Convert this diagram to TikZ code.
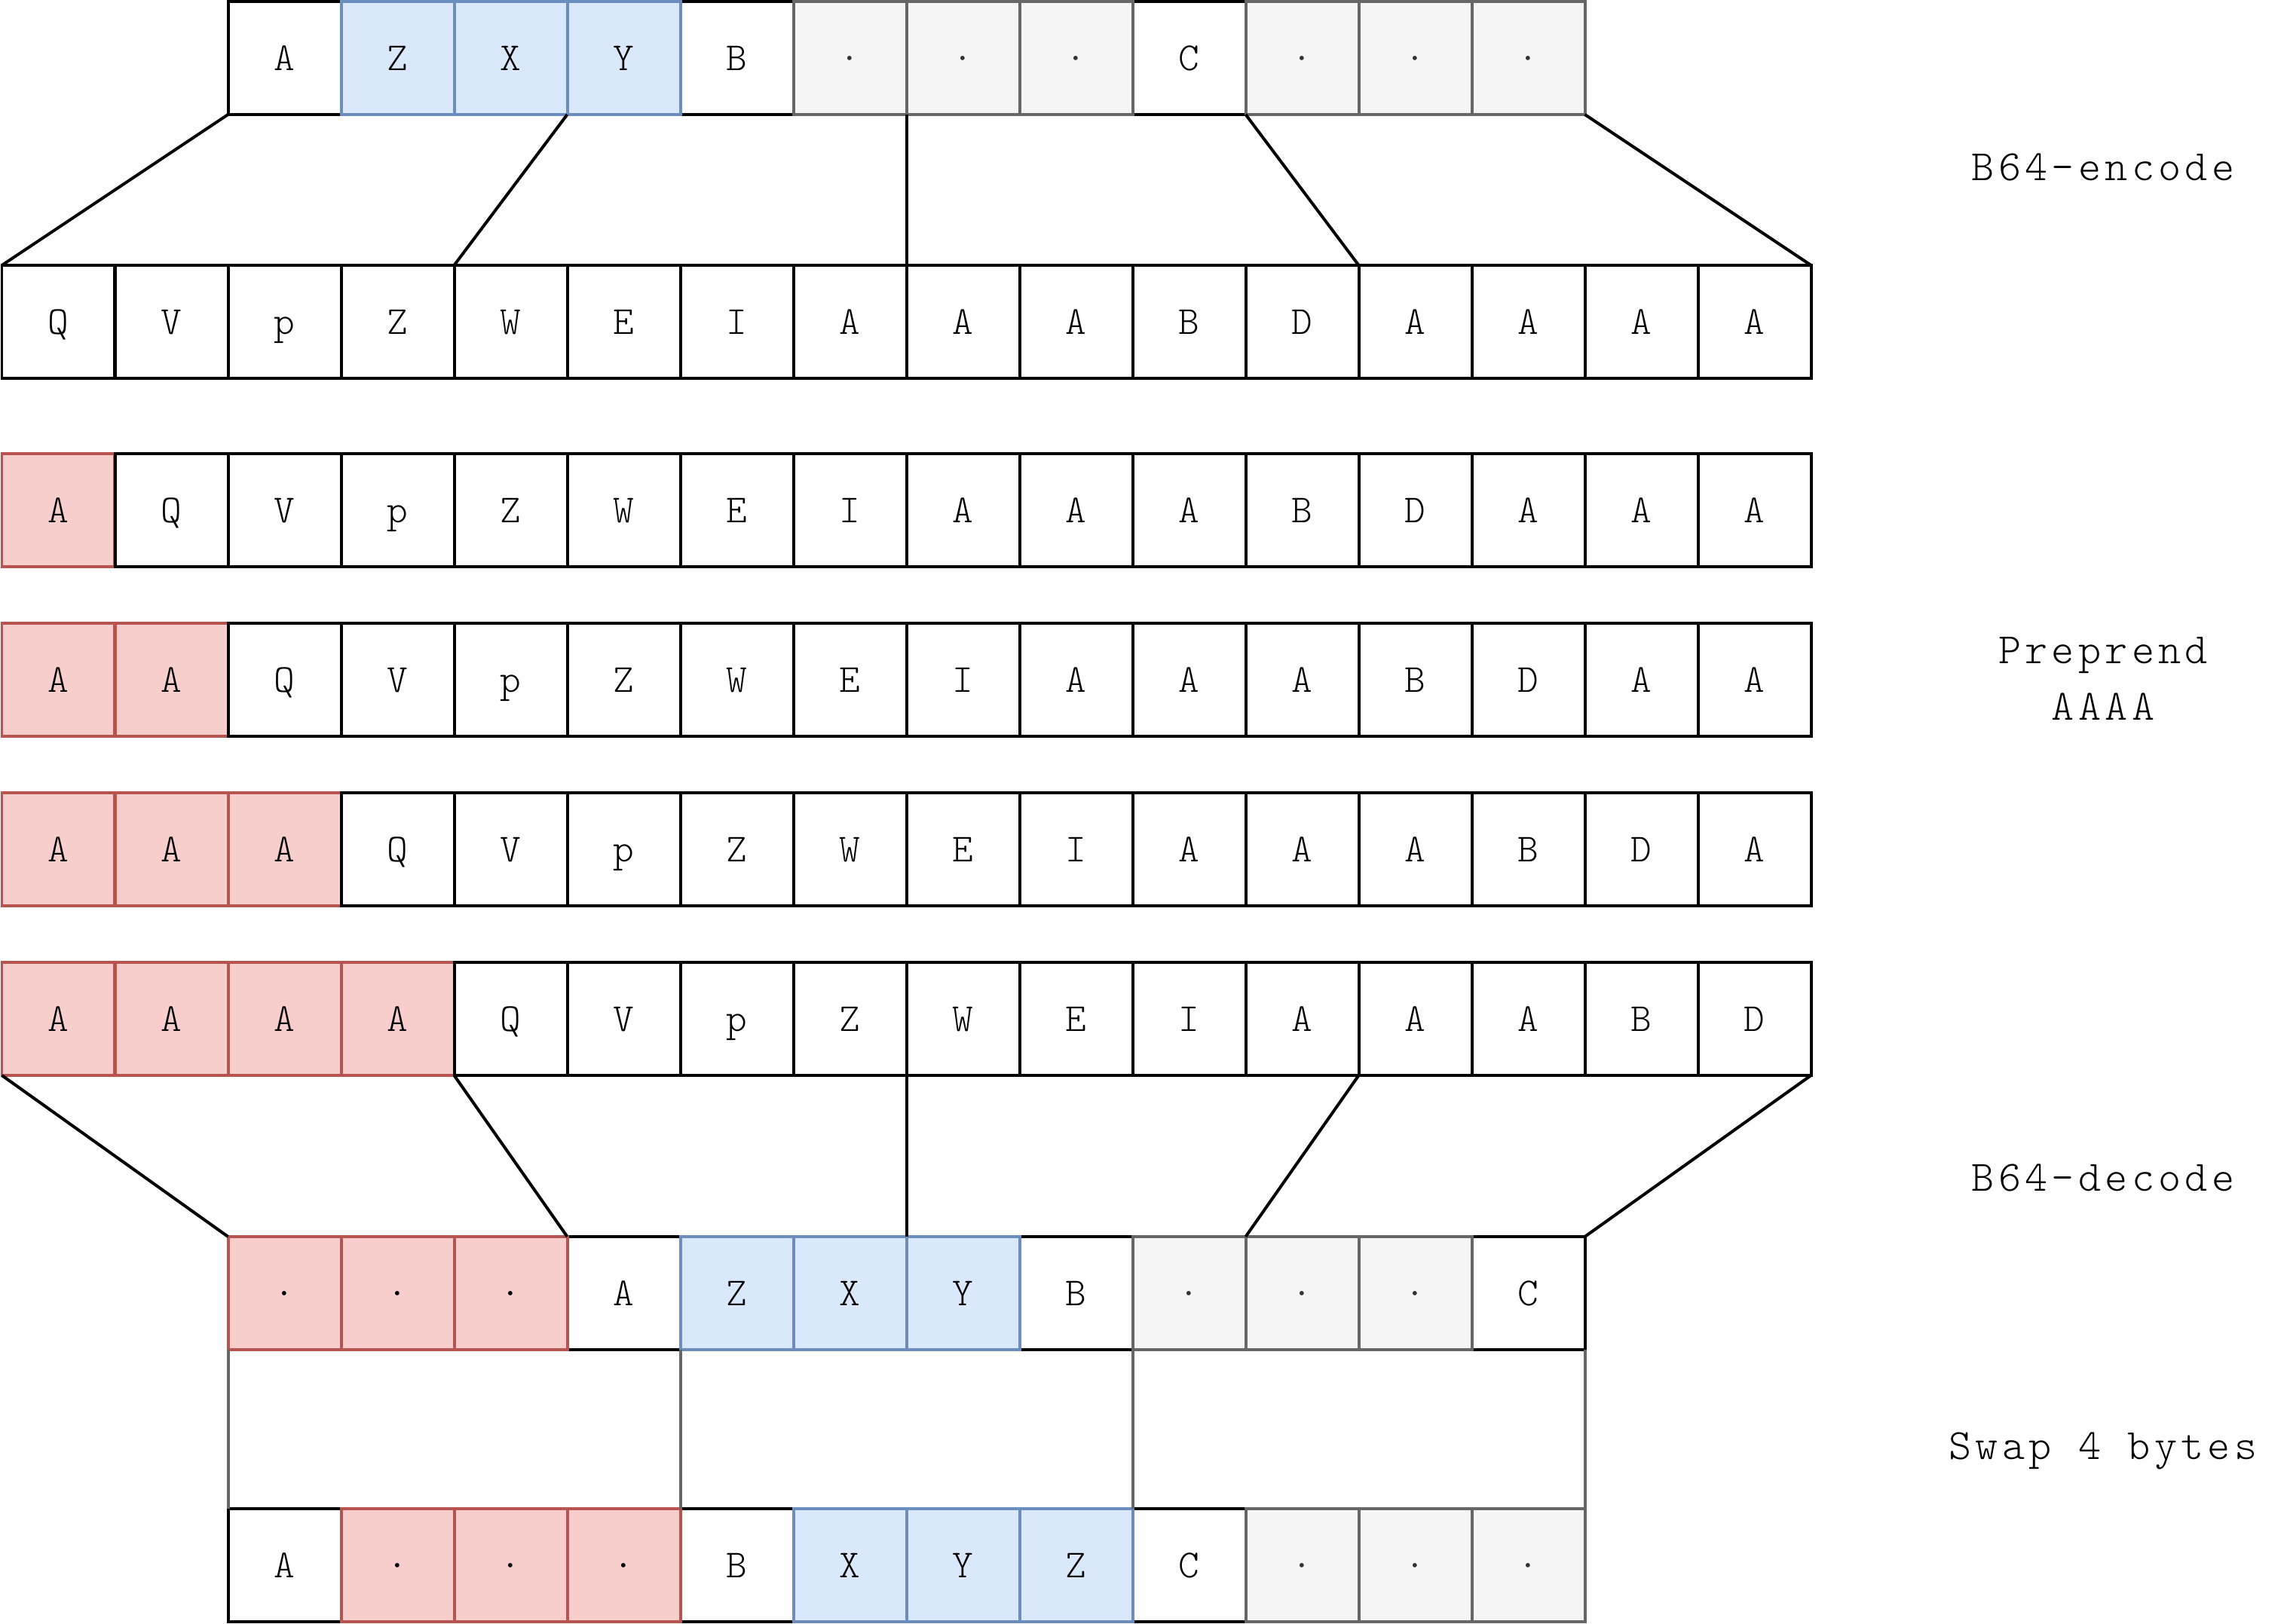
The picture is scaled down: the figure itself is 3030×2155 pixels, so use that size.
\documentclass[tikz,border=0pt]{standalone}
\usepackage{fontspec}
\newfontfamily\lightmono{lmmonolt10-regular.otf}
\newfontfamily\lightmonosp{lmmonolt10-regular.otf}[LetterSpace=9.3]
\definecolor{redF}{HTML}{F8CECC}
\definecolor{redD}{HTML}{B85450}
\definecolor{blueF}{HTML}{DAE8FC}
\definecolor{blueD}{HTML}{6C8EBF}
\definecolor{grayF}{HTML}{F5F5F5}
\definecolor{grayD}{HTML}{666666}
\definecolor{grayT}{HTML}{333333}
\newcommand\cellfont{\lightmono\fontsize{15}{18}\selectfont}
\newcommand\lblfont{\lightmonosp\fontsize{16.3}{21.34}\selectfont}
\newcommand\cellrow[3]{\foreach \c/\t/\s in {#3} {\node[style=\s] (r#1c\c) at ({2.5+150*\c},#2) {\t};}}
\tikzset{
  wc/.style={draw=black, fill=white, line width=0.4mm, minimum width=15mm, minimum height=15mm,
    inner sep=0pt, outer sep=0pt, anchor=north west, font=\cellfont, text height=9.17pt, text depth=0pt},
  rc/.style={wc, fill=redF, draw=redD},
  bc/.style={wc, fill=blueF, draw=blueD},
  gc/.style={wc, fill=grayF, draw=grayD, text=grayT},
  link/.style={line width=0.4mm, draw=black},
  swapline/.style={line width=0.4mm, draw=grayD},
  lbl/.style={font=\lblfont, align=center, inner sep=0pt},
  lblone/.style={lbl, text height=9.96pt, text depth=0pt}
}
\begin{document}
\begin{tikzpicture}[x=0.1mm,y=-0.1mm]
\fill[white] (0,0) rectangle (3030,2155);
\useasboundingbox (0,0) rectangle (3030,2155);
% row 0
\cellrow{0}{2}{2/A/wc,6/B/wc,10/C/wc,3/Z/bc,4/X/bc,5/Y/bc,7/·/gc,8/·/gc,9/·/gc,11/·/gc,12/·/gc,13/·/gc}
% row 1
\cellrow{1}{352}{0/Q/wc,1/V/wc,2/p/wc,3/Z/wc,4/W/wc,5/E/wc,6/I/wc,7/A/wc,8/A/wc,9/A/wc,10/B/wc,11/D/wc,12/A/wc,13/A/wc,14/A/wc,15/A/wc}
% row 2
\cellrow{2}{602}{0/A/rc,1/Q/wc,2/V/wc,3/p/wc,4/Z/wc,5/W/wc,6/E/wc,7/I/wc,8/A/wc,9/A/wc,10/A/wc,11/B/wc,12/D/wc,13/A/wc,14/A/wc,15/A/wc}
% row 3
\cellrow{3}{827.5}{0/A/rc,1/A/rc,2/Q/wc,3/V/wc,4/p/wc,5/Z/wc,6/W/wc,7/E/wc,8/I/wc,9/A/wc,10/A/wc,11/A/wc,12/B/wc,13/D/wc,14/A/wc,15/A/wc}
% row 4
\cellrow{4}{1052.5}{0/A/rc,1/A/rc,2/A/rc,3/Q/wc,4/V/wc,5/p/wc,6/Z/wc,7/W/wc,8/E/wc,9/I/wc,10/A/wc,11/A/wc,12/A/wc,13/B/wc,14/D/wc,15/A/wc}
% row 5
\cellrow{5}{1277}{0/A/rc,1/A/rc,2/A/rc,3/A/rc,4/Q/wc,5/V/wc,6/p/wc,7/Z/wc,8/W/wc,9/E/wc,10/I/wc,11/A/wc,12/A/wc,13/A/wc,14/B/wc,15/D/wc}
% row 6
\cellrow{6}{1641}{5/A/wc,9/B/wc,13/C/wc,2/·/rc,3/·/rc,4/·/rc,6/Z/bc,7/X/bc,8/Y/bc,10/·/gc,11/·/gc,12/·/gc}
% row 7
\cellrow{7}{2002}{2/A/wc,6/B/wc,10/C/wc,3/·/rc,4/·/rc,5/·/rc,7/X/bc,8/Y/bc,9/Z/bc,11/·/gc,12/·/gc,13/·/gc}
% encode connectors
\draw[link] (r0c2.south west) -- (r1c0.north west);
\draw[link] (r0c5.south west) -- (r1c4.north west);
\draw[link] (r0c8.south west) -- (r1c8.north west);
\draw[link] (r0c11.south west) -- (r1c12.north west);
\draw[link] (r0c13.south east) -- (r1c15.north east);
% decode connectors
\draw[link] (r5c0.south west) -- (r6c2.north west);
\draw[link] (r5c4.south west) -- (r6c5.north west);
\draw[link] (r5c8.south west) -- (r6c8.north west);
\draw[link] (r5c12.south west) -- (r6c11.north west);
\draw[link] (r5c15.south east) -- (r6c13.north east);
% swap connectors
\draw[swapline] (r6c2.south west) -- (r7c2.north west);
\draw[swapline] (r6c6.south west) -- (r7c6.north west);
\draw[swapline] (r6c10.south west) -- (r7c10.north west);
\draw[swapline] (r6c13.south east) -- (r7c13.north east);
% labels
\node[lblone] (lenc) at (2790,222) {B64-encode};
\node[lbl] (lpre) at (2790,900) {Preprend\\AAAA};
\node[lblone] (ldec) at (2790,1563) {B64-decode};
\node[lblone] (lswap) at (2790,1919) {Swap 4 bytes};
\end{tikzpicture}
\end{document}
